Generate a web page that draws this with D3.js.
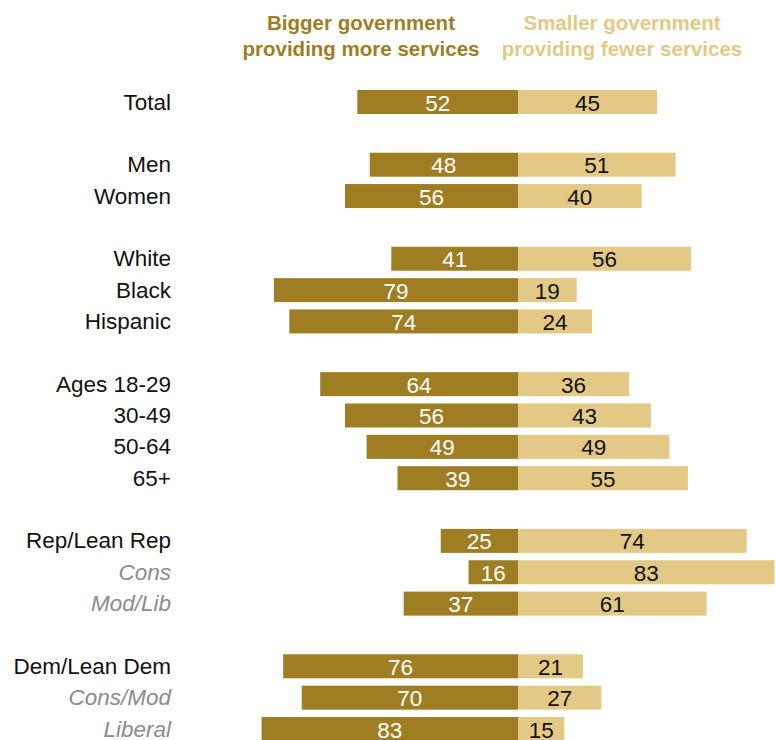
<!DOCTYPE html>
<html><head><meta charset="utf-8">
<script src="https://cdn.jsdelivr.net/npm/d3@7"></script>
<style>body{margin:0;background:#fff}svg{display:block}</style>
</head><body>
<script>
const categories = ["Total","Men","Women","White","Black","Hispanic","Ages 18-29","30-49","50-64","65+","Rep/Lean Rep","Cons","Mod/Lib","Dem/Lean Dem","Cons/Mod","Liberal"];
const bigger  = [52,48,56,41,79,74,64,56,49,39,25,16,37,76,70,83];
const smaller = [45,51,40,56,19,24,36,43,49,55,74,83,61,21,27,15];
const groups  = [0,1,1,2,2,2,3,3,3,3,4,4,4,5,5,5];
const italicCats = ["Cons","Mod/Lib","Cons/Mod","Liberal"];
const headers = [["Bigger government","providing more services"],["Smaller government","providing fewer services"]];

const W = 776, H = 740;
const dark = "#9f7e23", light = "#e3c985";
const font = "'Liberation Sans', Arial, sans-serif";
const svg = d3.select("body").append("svg").attr("width", W).attr("height", H);

const data = categories.map((c,i)=>({cat:c, big:bigger[i], small:smaller[i], slot:i+groups[i]}));
const y = d3.scaleLinear().domain([0,20]).range([102,729]);
const xL = d3.scaleLinear().domain([0,100]).range([518, 518-309]);
const xR = d3.scaleLinear().domain([0,100]).range([518, 518+309]);
const bh = 24;

const g = svg.append("g");
const rows = g.selectAll("g.row").data(data).join("g").attr("class","row");
rows.append("rect").attr("x", d=>xL(d.big)).attr("y", d=>y(d.slot)-bh/2)
  .attr("width", d=>xL(0)-xL(d.big)).attr("height", bh).attr("fill", dark);
rows.append("rect").attr("x", xR(0)).attr("y", d=>y(d.slot)-bh/2)
  .attr("width", d=>xR(d.small)-xR(0)).attr("height", bh).attr("fill", light);
rows.append("text").attr("x", d=>(xL(d.big)+xL(0))/2).attr("y", d=>y(d.slot)+8.5)
  .attr("text-anchor","middle").attr("fill","#fff").attr("font-family",font).attr("font-size",22.5)
  .text(d=>d.big);
rows.append("text").attr("x", d=>(xR(d.small)+xR(0))/2).attr("y", d=>y(d.slot)+8.5)
  .attr("text-anchor","middle").attr("fill","#111").attr("font-family",font).attr("font-size",22.5)
  .text(d=>d.small);
rows.append("text").attr("x", 171).attr("y", d=>y(d.slot)+7.5)
  .attr("text-anchor","end").attr("font-family",font).attr("font-size",22.5)
  .attr("font-style", d=>italicCats.includes(d.cat)?"italic":"normal")
  .attr("fill", d=>italicCats.includes(d.cat)?"#8c8c8c":"#111")
  .text(d=>d.cat);

const hx = [361, 622], hc = [dark, light];
headers.forEach((lines,k)=>{
  lines.forEach((t,j)=>{
    svg.append("text").attr("x", hx[k]).attr("y", 30+j*26)
      .attr("text-anchor","middle").attr("font-family",font).attr("font-weight","bold")
      .attr("font-size",20.5).attr("fill",hc[k]).text(t);
  });
});
</script>
</body></html>
